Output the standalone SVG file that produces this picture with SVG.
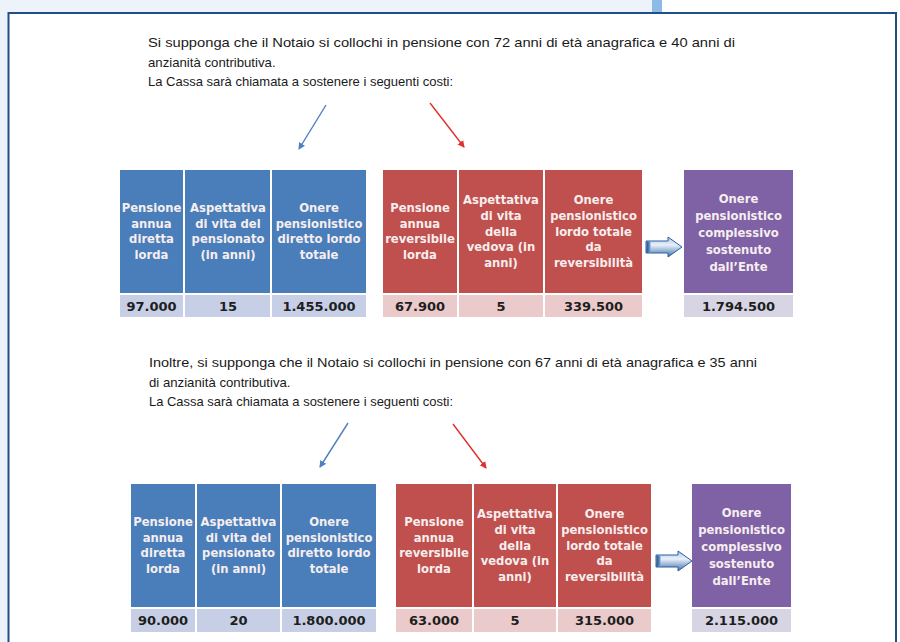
<svg xmlns="http://www.w3.org/2000/svg" width="900" height="642" viewBox="0 0 900 642">
<style>
.body{font-family:"Liberation Sans",Arial,sans-serif;font-size:13.2px;fill:#1a1a1a}
.hd{font-family:"DejaVu Sans",Verdana,sans-serif;font-size:11.6px;font-weight:bold;fill:#f6eeee;text-anchor:middle}
.val{font-family:"DejaVu Sans",Verdana,sans-serif;font-size:13px;font-weight:bold;fill:#1e1e1e;text-anchor:middle}
.bh{fill:#4a7ebb}.bv{fill:#c7cfe6}
.rh{fill:#c0504d}.rv{fill:#ebcacb}
.ph{fill:#7f62a6}.pv{fill:#d7d5e4}
</style>
<defs>
<marker id="mb" markerWidth="8" markerHeight="8" refX="6" refY="4" orient="auto" markerUnits="userSpaceOnUse"><path d="M0,0.5 L7,4 L0,7.5 Z" fill="#4f7fc0"/></marker>
<marker id="mr" markerWidth="8" markerHeight="8" refX="6" refY="4" orient="auto" markerUnits="userSpaceOnUse"><path d="M0,0.5 L7,4 L0,7.5 Z" fill="#e0302e"/></marker>
<linearGradient id="ag" x1="0" y1="0" x2="0" y2="1"><stop offset="0" stop-color="#a9c4e6"/><stop offset="0.4" stop-color="#e8f0fa"/><stop offset="1" stop-color="#3f6fae"/></linearGradient>
<linearGradient id="ah" x1="0" y1="0" x2="1" y2="0"><stop offset="0" stop-color="#1f4e8c"/><stop offset="1" stop-color="#7ea4d4"/></linearGradient>
<g id="bigarrow"><path d="M0,4 L22,4 L22,0 L36,10 L22,20 L22,16 L0,16 Z" fill="url(#ag)" stroke="#2f5e9e" stroke-width="1"/><rect x="0.5" y="4.5" width="4" height="11" fill="url(#ah)"/></g>
</defs>
<rect x="0" y="0" width="900" height="642" fill="#ffffff"/>
<rect x="0" y="0" width="652" height="13" fill="#eef3fb"/>
<rect x="0" y="0" width="8" height="642" fill="#eef3fb"/>
<rect x="652" y="0" width="10" height="13" fill="#8cbbe8"/>
<path d="M8.5,644 L8.5,13 L896,13 L896,644" fill="none" stroke="#1f4f86" stroke-width="2"/>

<g id="text1">
<text class="body" x="148" y="47" textLength="587" lengthAdjust="spacingAndGlyphs">Si supponga che il Notaio si collochi in pensione con 72 anni di età anagrafica e 40 anni di</text>
<text class="body" x="148" y="67">anzianità contributiva.</text>
<text class="body" x="148" y="86" textLength="305" lengthAdjust="spacingAndGlyphs">La Cassa sarà chiamata a sostenere i seguenti costi:</text>
</g>
<g id="text2">
<text class="body" x="149" y="367" textLength="608" lengthAdjust="spacingAndGlyphs">Inoltre, si supponga che il Notaio si collochi in pensione con 67 anni di età anagrafica e 35 anni</text>
<text class="body" x="149" y="387">di anzianità contributiva.</text>
<text class="body" x="149" y="406" textLength="304" lengthAdjust="spacingAndGlyphs">La Cassa sarà chiamata a sostenere i seguenti costi:</text>
</g>

<g id="connectors">
<line x1="326" y1="105" x2="299" y2="149" stroke="#4f7fc0" stroke-width="1.4" marker-end="url(#mb)"/>
<line x1="430" y1="103" x2="464" y2="147" stroke="#e0302e" stroke-width="1.4" marker-end="url(#mr)"/>
<line x1="348" y1="423" x2="320" y2="467" stroke="#4f7fc0" stroke-width="1.4" marker-end="url(#mb)"/>
<line x1="453" y1="424" x2="486" y2="468" stroke="#e0302e" stroke-width="1.4" marker-end="url(#mr)"/>
<use href="#bigarrow" x="646" y="237"/>
<use href="#bigarrow" x="656" y="551"/>
</g>

<!-- Scenario 1 -->
<g id="t1-blue-1">
<rect class="bh" x="120" y="170" width="63" height="123"/><rect class="bv" x="120" y="295" width="63" height="22"/>
<text class="hd" x="151.5"><tspan y="212">Pensione</tspan><tspan x="151.5" y="228">annua</tspan><tspan x="151.5" y="243">diretta</tspan><tspan x="151.5" y="259">lorda</tspan></text>
<text class="val" x="151.5" y="311">97.000</text>
</g>
<g id="t1-blue-2">
<rect class="bh" x="185" y="170" width="85" height="123"/><rect class="bv" x="185" y="295" width="85" height="22"/>
<text class="hd" x="228"><tspan y="212">Aspettativa</tspan><tspan x="228" y="228">di vita del</tspan><tspan x="228" y="243">pensionato</tspan><tspan x="228" y="259">(in anni)</tspan></text>
<text class="val" x="228" y="311">15</text>
</g>
<g id="t1-blue-3">
<rect class="bh" x="272" y="170" width="94" height="123"/><rect class="bv" x="272" y="295" width="94" height="22"/>
<text class="hd" x="319"><tspan y="212">Onere</tspan><tspan x="319" y="228">pensionistico</tspan><tspan x="319" y="243">diretto lordo</tspan><tspan x="319" y="259">totale</tspan></text>
<text class="val" x="319" y="311">1.455.000</text>
</g>
<g id="t1-red-1">
<rect class="rh" x="383" y="170" width="74" height="123"/><rect class="rv" x="383" y="295" width="74" height="22"/>
<text class="hd" x="420"><tspan y="212">Pensione</tspan><tspan x="420" y="228">annua</tspan><tspan x="420" y="243">reversibile</tspan><tspan x="420" y="259">lorda</tspan></text>
<text class="val" x="420" y="311">67.900</text>
</g>
<g id="t1-red-2">
<rect class="rh" x="459" y="170" width="84" height="123"/><rect class="rv" x="459" y="295" width="84" height="22"/>
<text class="hd" x="501"><tspan y="204">Aspettativa</tspan><tspan x="501" y="220">di vita</tspan><tspan x="501" y="235.5">della</tspan><tspan x="501" y="251">vedova (in</tspan><tspan x="501" y="267">anni)</tspan></text>
<text class="val" x="501" y="311">5</text>
</g>
<g id="t1-red-3">
<rect class="rh" x="545" y="170" width="97" height="123"/><rect class="rv" x="545" y="295" width="97" height="22"/>
<text class="hd" x="593.5"><tspan y="204">Onere</tspan><tspan x="593.5" y="220">pensionistico</tspan><tspan x="593.5" y="235.5">lordo totale</tspan><tspan x="593.5" y="251">da</tspan><tspan x="593.5" y="267">reversibilità</tspan></text>
<text class="val" x="593.5" y="311">339.500</text>
</g>
<g id="t1-purple">
<rect class="ph" x="684" y="170" width="109" height="123"/><rect class="pv" x="684" y="295" width="109" height="22"/>
<text class="hd" x="738.5"><tspan y="203">Onere</tspan><tspan x="738.5" y="220">pensionistico</tspan><tspan x="738.5" y="237">complessivo</tspan><tspan x="738.5" y="254">sostenuto</tspan><tspan x="738.5" y="271">dall’Ente</tspan></text>
<text class="val" x="738.5" y="311">1.794.500</text>
</g>

<!-- Scenario 2 -->
<g id="t2-blue-1">
<rect class="bh" x="131" y="484" width="64" height="123"/><rect class="bv" x="131" y="609" width="64" height="23"/>
<text class="hd" x="163"><tspan y="526">Pensione</tspan><tspan x="163" y="542">annua</tspan><tspan x="163" y="557">diretta</tspan><tspan x="163" y="573">lorda</tspan></text>
<text class="val" x="163" y="625">90.000</text>
</g>
<g id="t2-blue-2">
<rect class="bh" x="197" y="484" width="83" height="123"/><rect class="bv" x="197" y="609" width="83" height="23"/>
<text class="hd" x="238.5"><tspan y="526">Aspettativa</tspan><tspan x="238.5" y="542">di vita del</tspan><tspan x="238.5" y="557">pensionato</tspan><tspan x="238.5" y="573">(in anni)</tspan></text>
<text class="val" x="238.5" y="625">20</text>
</g>
<g id="t2-blue-3">
<rect class="bh" x="282" y="484" width="94" height="123"/><rect class="bv" x="282" y="609" width="94" height="23"/>
<text class="hd" x="329"><tspan y="526">Onere</tspan><tspan x="329" y="542">pensionistico</tspan><tspan x="329" y="557">diretto lordo</tspan><tspan x="329" y="573">totale</tspan></text>
<text class="val" x="329" y="625">1.800.000</text>
</g>
<g id="t2-red-1">
<rect class="rh" x="396" y="484" width="76" height="123"/><rect class="rv" x="396" y="609" width="76" height="23"/>
<text class="hd" x="434"><tspan y="526">Pensione</tspan><tspan x="434" y="542">annua</tspan><tspan x="434" y="557">reversibile</tspan><tspan x="434" y="573">lorda</tspan></text>
<text class="val" x="434" y="625">63.000</text>
</g>
<g id="t2-red-2">
<rect class="rh" x="474" y="484" width="82" height="123"/><rect class="rv" x="474" y="609" width="82" height="23"/>
<text class="hd" x="515"><tspan y="518">Aspettativa</tspan><tspan x="515" y="534">di vita</tspan><tspan x="515" y="549.5">della</tspan><tspan x="515" y="565">vedova (in</tspan><tspan x="515" y="581">anni)</tspan></text>
<text class="val" x="515" y="625">5</text>
</g>
<g id="t2-red-3">
<rect class="rh" x="558" y="484" width="93" height="123"/><rect class="rv" x="558" y="609" width="93" height="23"/>
<text class="hd" x="604.5"><tspan y="518">Onere</tspan><tspan x="604.5" y="534">pensionistico</tspan><tspan x="604.5" y="549.5">lordo totale</tspan><tspan x="604.5" y="565">da</tspan><tspan x="604.5" y="581">reversibilità</tspan></text>
<text class="val" x="604.5" y="625">315.000</text>
</g>
<g id="t2-purple">
<rect class="ph" x="692" y="484" width="99" height="123"/><rect class="pv" x="692" y="609" width="99" height="23"/>
<text class="hd" x="741.5"><tspan y="517">Onere</tspan><tspan x="741.5" y="534">pensionistico</tspan><tspan x="741.5" y="551">complessivo</tspan><tspan x="741.5" y="568">sostenuto</tspan><tspan x="741.5" y="585">dall’Ente</tspan></text>
<text class="val" x="741.5" y="625">2.115.000</text>
</g>
</svg>
